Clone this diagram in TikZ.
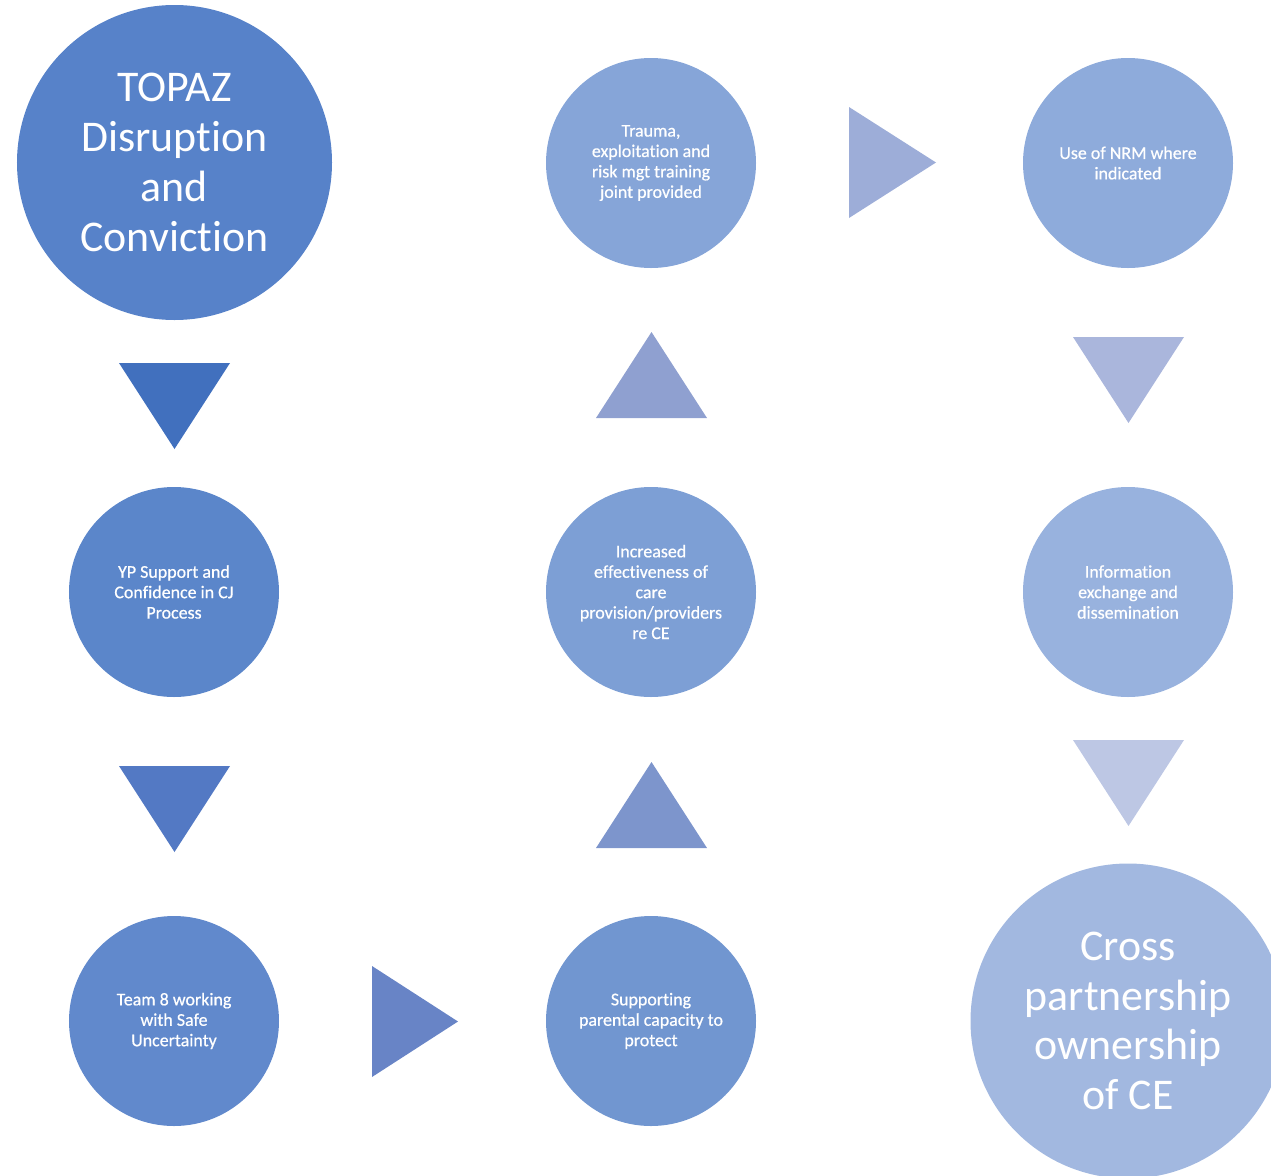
\documentclass[tikz,border=0pt]{standalone}
\usepackage{fontspec}
\setmainfont{Carlito}[Ligatures=NoCommon]
\newfontfamily\smallfont{Carlito}[Ligatures=NoCommon,FakeBold=0.6]
\definecolor{cA}{HTML}{5782C9}
\definecolor{tA}{HTML}{4170BE}
\definecolor{cB}{HTML}{5B86CA}
\definecolor{tB}{HTML}{5379C4}
\definecolor{cC}{HTML}{6189CC}
\definecolor{tC}{HTML}{6884C6}
\definecolor{cD}{HTML}{7196D0}
\definecolor{tD}{HTML}{7D95CC}
\definecolor{cE}{HTML}{7D9FD5}
\definecolor{tE}{HTML}{8FA0D0}
\definecolor{cF}{HTML}{86A5D8}
\definecolor{tF}{HTML}{9DADD8}
\definecolor{cG}{HTML}{8EABDB}
\definecolor{tG}{HTML}{AAB6DC}
\definecolor{cH}{HTML}{98B2DE}
\definecolor{tH}{HTML}{BDC7E4}
\definecolor{cI}{HTML}{A2B8E0}
\tikzset{
  smallcirc/.style={circle, minimum size=210bp, inner sep=0pt, text=white, align=center, font=\smallfont\fontsize{18}{20.5}\selectfont},
  bigcirc/.style={circle, minimum size=315bp, inner sep=0pt, text=white, align=center, font=\fontsize{44}{50}\selectfont}
}
\begin{document}
\begin{tikzpicture}[x=1bp,y=-1bp]
\useasboundingbox (0,0) rectangle (1271,1176);
\clip (0,0) rectangle (1271,1176);
% circles
\node[bigcirc, fill=cA] (topaz) at (174.5,162.5) {TOPAZ\\Disruption\\and\\Conviction};
\node[smallcirc, fill=cB] (yp) at (174,592) {YP Support and\\Confidence in CJ\\Process};
\node[smallcirc, fill=cC] (team) at (174,1021) {Team 8 working\\with Safe\\Uncertainty};
\node[smallcirc, fill=cD] (supp) at (651,1021) {Supporting\\parental capacity to\\protect};
\node[smallcirc, fill=cE] (incr) at (651,592) {Increased\\effectiveness of\\care\\provision/providers\\re CE};
\node[smallcirc, fill=cF] (trauma) at (651,163) {Trauma,\\exploitation and\\risk mgt training\\joint provided};
\node[smallcirc, fill=cG] (nrm) at (1128,163) {Use of NRM where\\indicated};
\node[smallcirc, fill=cH] (info) at (1128,592) {Information\\exchange and\\dissemination};
\node[bigcirc, fill=cI] (cross) at (1128,1021) {Cross\\partnership\\ownership\\of CE};
% triangles
\fill[tA] (119,363) -- (230,363) -- (174.5,449) -- cycle;
\fill[tB] (119,766) -- (230,766) -- (174.5,852) -- cycle;
\fill[tC] (372,966) -- (372,1077) -- (458,1021.5) -- cycle;
\fill[tD] (596,848) -- (707,848) -- (651.5,762) -- cycle;
\fill[tE] (596,418) -- (707,418) -- (651.5,332) -- cycle;
\fill[tF] (849,107) -- (849,218) -- (936,162.5) -- cycle;
\fill[tG] (1073,337) -- (1184,337) -- (1128.5,423) -- cycle;
\fill[tH] (1073,740) -- (1184,740) -- (1128.5,826) -- cycle;
\end{tikzpicture}
\end{document}
